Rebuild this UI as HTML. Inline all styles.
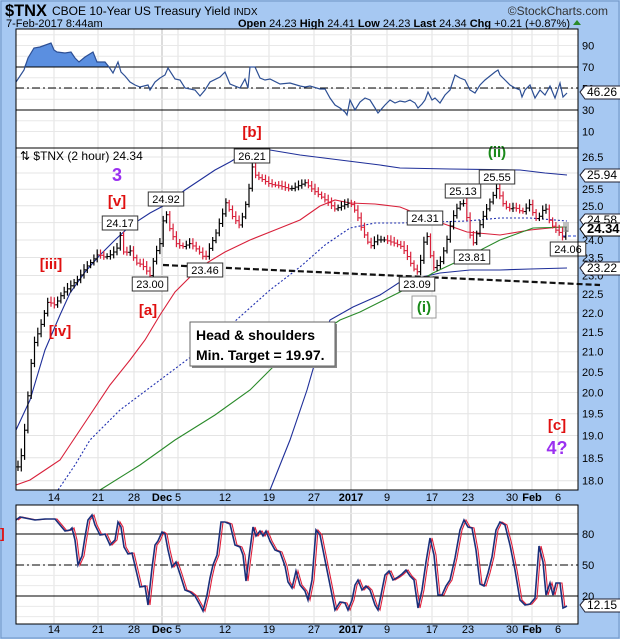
<!DOCTYPE html>
<html><head><meta charset="utf-8"><style>
html,body{margin:0;padding:0;background:#a6c8f2;}
svg{display:block;font-family:"Liberation Sans",sans-serif;}
</style></head><body>
<svg id="s" width="620" height="639" xmlns="http://www.w3.org/2000/svg">
<rect x="0" y="0" width="620" height="639" fill="#a6c8f2"/>
<rect x="1" y="1" width="618" height="637" fill="none" stroke="#6f93c4"/>
<text x="5" y="16" font-size="17" font-weight="bold" textLength="42" lengthAdjust="spacingAndGlyphs">$TNX</text>
<text x="52" y="15" font-size="12">CBOE 10-Year US Treasury Yield <tspan font-size="10">INDX</tspan></text>
<text x="608" y="15" font-size="12" fill="#333" text-anchor="end">©StockCharts.com</text>
<text x="6" y="27" font-size="11">7-Feb-2017 8:44am</text>
<text x="570" y="27" font-size="11" text-anchor="end"><tspan font-weight="bold">Open</tspan> 24.23 <tspan font-weight="bold">High</tspan> 24.41 <tspan font-weight="bold">Low</tspan> 24.23 <tspan font-weight="bold">Last</tspan> 24.34 <tspan font-weight="bold">Chg</tspan> +0.21 (+0.87%)</text>
<polygon points="573,25 577,20 581,25" fill="#2a8a2a"/>
</svg>
<script>
const S=document.getElementById('s');const NS='http://www.w3.org/2000/svg';
function el(t,a,txt){const e=document.createElementNS(NS,t);for(const k in a)e.setAttribute(k,a[k]);if(txt!==undefined)e.textContent=txt;S.appendChild(e);return e;}
const L=16,R=578;
[[29,148],[148,490],[505,624]].forEach(p=>el('rect',{x:L,y:p[0],width:R-L,height:p[1]-p[0],fill:'#fff'}));
const vx=[54,98,134,162,178,225,269,314,351,387,432,468,512,532,558];
function vgrid(y1,y2){vx.forEach(x=>el('line',{x1:x,x2:x,y1:y1,y2:y2,stroke:(x==162||x==351)?'#bbb':'#e2e2e2'}));}
vgrid(29,148);vgrid(148,490);vgrid(505,624);
// top RSI
function ry(v){return 110-(v-30)*1.075;}
for(let v=10;v<=100;v+=10)el('line',{x1:L,x2:R,y1:ry(v),y2:ry(v),stroke:'#e8e8e8'});
[90,70,50,30,10].forEach(v=>el('text',{x:582,y:ry(v)+4,'font-size':11},v));
const rsi=[[16,82],[20,76],[24,70],[28,58],[34,48],[40,47],[51,43],[54,50],[57,52],[65,53],[71,52],[75,58],[79,62],[85,57],[93,52],[97,62],[105,62],[109,67],[113,73],[118,62],[121,72],[125,76],[130,82],[135,85],[140,87],[148,85],[150,90],[155,82],[160,78],[165,75],[168,68],[175,79],[180,80],[185,88],[195,90],[200,96],[205,90],[210,82],[220,77],[225,72],[230,84],[240,88],[245,79],[248,88],[250,67],[255,67],[260,78],[265,80],[270,79],[280,84],[290,83],[300,86],[305,87],[310,86],[320,89],[325,89],[330,98],[335,105],[340,108],[345,112],[347,115],[350,100],[355,110],[360,102],[365,98],[370,100],[375,108],[378,113],[385,105],[390,100],[395,103],[400,101],[405,102],[410,100],[415,103],[418,108],[422,104],[425,100],[428,92],[432,100],[435,98],[440,103],[445,95],[450,90],[455,75],[460,78],[465,80],[470,90],[475,93],[480,85],[485,80],[490,76],[495,72],[498,70],[500,75],[505,80],[510,85],[515,88],[520,90],[522,97],[525,90],[530,85],[535,98],[540,90],[545,95],[550,86],[555,98],[560,83],[563,97],[567,93]];
let fp='21,67 ';rsi.filter(p=>p[0]>=21&&p[0]<=109).forEach(p=>fp+=p[0]+','+Math.min(p[1],67)+' ');fp+='109,67';
el('polygon',{points:fp,fill:'#5b8fe0'});
el('line',{x1:L,x2:R,y1:67,y2:67,stroke:'#000'});el('line',{x1:L,x2:R,y1:110,y2:110,stroke:'#000'});
el('line',{x1:L,x2:R,y1:88,y2:88,stroke:'#000','stroke-dasharray':'8,3,2,3'});
el('polyline',{points:rsi.map(p=>p.join(',')).join(' '),fill:'none',stroke:'#2d4f94','stroke-width':1.2});
// main
function py(p){return 157+837*Math.log(26.5/p);}
for(let v=18;v<=26.5;v+=0.5){el('line',{x1:L,x2:R,y1:py(v),y2:py(v),stroke:'#e4e4e4'});}
[26.5,25.5,25.0,24.0,23.5,23.0,22.5,22.0,21.5,21.0,20.5,20.0,19.5,19.0,18.5,18.0].forEach(v=>el('text',{x:582,y:py(v)+4,'font-size':11},v.toFixed(1)));
el('text',{x:582,y:py(26.0)+4,'font-size':11},'26.0');
function pl(pts,c,extra){const a={points:pts.map(p=>p.join(',')).join(' '),fill:'none',stroke:c,'stroke-width':1.1};Object.assign(a,extra||{});el('polyline',a);}
pl([[16,430],[30,400],[45,350],[60,315],[70,293],[85,272],[100,255],[115,240],[130,226],[150,213],[165,205],[185,190],[200,180],[215,170],[230,162],[245,153],[252,149],[270,150],[300,155],[340,160],[380,165],[400,168],[450,169],[520,170],[545,173],[567,175]],'#1f2f99');
pl([[270,490],[290,440],[307,390],[320,345],[330,320],[353,307],[380,295],[400,282],[440,273],[470,270],[500,270],[530,269],[567,268]],'#1f2f99');
pl([[16,485],[30,480],[45,470],[60,460],[70,445],[90,415],[110,385],[130,360],[145,340],[160,315],[175,292],[200,267],[225,252],[250,240],[275,230],[300,220],[320,206],[335,200],[350,203],[375,204],[400,207],[433,220],[467,232],[500,235],[530,230],[560,227],[567,227]],'#d8203a');
pl([[58,490],[75,465],[90,440],[120,410],[160,380],[200,350],[233,323],[270,290],[300,267],[325,245],[350,228],[375,223],[400,223],[467,221],[500,218],[530,218],[567,221]],'#2030b0',{'stroke-dasharray':'2,2'});
pl([[100,490],[140,465],[175,440],[215,415],[250,390],[277,363],[310,340],[340,320],[360,312],[400,292],[433,273],[467,257],[500,240],[533,228],[567,227]],'#2a8a2a');
el('line',{x1:163,y1:265,x2:600,y2:285,stroke:'#111','stroke-width':2.2,'stroke-dasharray':'6,3'});
el('line',{x1:563,y1:236,x2:578,y2:236,stroke:'#2040d0','stroke-dasharray':'3,2'});
const wp=[[18,18.3],[22,18.6],[26,19.4],[30,20.5],[34,21.2],[40,21.6],[48,22.3],[55,22.2],[62,22.5],[70,22.7],[78,22.9],[85,23.2],[92,23.4],[98,23.6],[105,23.5],[112,23.6],[118,23.8],[120,24.17],[124,23.6],[130,23.7],[136,23.35],[142,23.3],[150,23.0],[155,23.6],[160,23.9],[165,24.92],[170,24.3],[176,23.9],[182,23.8],[190,23.9],[198,23.7],[205,23.46],[210,23.8],[216,24.2],[222,24.7],[226,25.1],[232,24.7],[240,24.4],[248,25.3],[252,26.21],[256,25.9],[262,25.8],[270,25.65],[280,25.6],[290,25.5],[298,25.6],[305,25.7],[312,25.5],[320,25.3],[328,25.1],[335,24.9],[342,25.0],[350,25.1],[356,24.8],[362,24.3],[370,23.8],[376,24.0],[385,24.0],[395,23.9],[402,23.8],[408,23.5],[413,23.2],[418,23.09],[422,23.6],[426,24.31],[430,23.6],[434,23.2],[440,23.35],[446,23.9],[452,24.6],[458,25.0],[463,25.13],[468,24.5],[472,23.81],[477,24.2],[482,24.6],[488,25.0],[493,25.3],[497,25.55],[502,25.1],[508,24.9],[515,24.95],[522,24.8],[530,25.05],[535,24.6],[540,24.7],[545,25.0],[550,24.5],[555,24.3],[560,24.2],[563,24.06],[567,24.34]];
function interp(x){for(let i=1;i<wp.length;i++){if(x<=wp[i][0]){const a=wp[i-1],b=wp[i];return a[1]+(b[1]-a[1])*(x-a[0])/(b[0]-a[0]);}}return wp[wp.length-1][1];}
let prev=interp(18);
for(let x=18;x<=567;x+=3.3){const c=interp(x);const n=Math.sin(x*1.7)*0.08;const hi=Math.max(c,prev)+0.08+Math.abs(n);const lo=Math.min(c,prev)-0.06-Math.abs(n)*0.5;const col=c>=prev?'#000':'#d8203a';
el('line',{x1:x,x2:x,y1:py(hi),y2:py(lo),stroke:col,'stroke-width':1.2});el('line',{x1:x-2,x2:x,y1:py(prev),y2:py(prev),stroke:col});el('line',{x1:x,x2:x+2,y1:py(c),y2:py(c),stroke:col});prev=c;}
el('rect',{x:563,y:222,width:6,height:10,fill:'#9a9a9a',opacity:0.6});
function lab(x,y,t){const w=t.length*6.3+4;el('rect',{x:x-w/2,y:y-8,width:w,height:14,fill:'#fff',stroke:'#333'});el('text',{x:x,y:y+3,'font-size':11,'text-anchor':'middle'},t);}
lab(120,224,'24.17');lab(166,200,'24.92');lab(252,157,'26.21');lab(150,285,'23.00');lab(205,271,'23.46');lab(425,219,'24.31');lab(417,285,'23.09');lab(463,192,'25.13');lab(472,258,'23.81');lab(497,178,'25.55');lab(568,250,'24.06');
function t(x,y,s,c,sz){el('text',{x:x,y:y,'font-size':sz,'font-weight':'bold',fill:c,'text-anchor':'middle'},s);}
t(117,181,'3','#9b30f0',18);t(117,206,'[v]','#e01010',15);t(51,269,'[iii]','#e01010',15);t(60,336,'[iv]','#e01010',15);t(148,315,'[a]','#e01010',15);t(252,137,'[b]','#e01010',15);t(497,157,'(ii)','#1a8a1a',15);t(557,430,'[c]','#e01010',15);t(557,454,'4?','#9b30f0',18);
el('rect',{x:412,y:296,width:24,height:22,fill:'#fff',stroke:'#999'});t(424,312,'(i)','#1a8a1a',15);
el('rect',{x:192,y:324,width:145,height:44,fill:'#888'});el('rect',{x:190,y:322,width:145,height:44,fill:'#fff',stroke:'#666'});
el('text',{x:196,y:340,'font-size':14,'font-weight':'bold'},'Head & shoulders');el('text',{x:196,y:360,'font-size':14,'font-weight':'bold'},'Min. Target = 19.97.');
el('text',{x:20,y:160,'font-size':12},'⇅ $TNX (2 hour) 24.34');
function rb(y,t,bold){const w=t.length*7+6;el('polygon',{points:`580,${y} 585,${y-6} ${585+w},${y-6} ${585+w},${y+7} 585,${y+7}`,fill:'#fff',stroke:bold?'#000':'#223'});el('text',{x:587,y:y+4,'font-size':bold?13:12,'font-weight':bold?'bold':'normal'},t);}
rb(175,'25.94');rb(220,'24.58');rb(268,'23.22');rb(229,'24.34',1);rb(92,'46.26');rb(605,'12.15');
const xl=[[54,'14'],[98,'21'],[134,'28'],[162,'Dec',1],[178,'5'],[225,'12'],[269,'19'],[314,'27'],[351,'2017',1],[387,'9'],[432,'17'],[468,'23'],[512,'30'],[532,'Feb',1],[558,'6']];
[501,633].forEach(y=>xl.forEach(l=>el('text',{x:l[0],y:y,'font-size':11,'text-anchor':'middle','font-weight':l[2]?'bold':'normal'},l[1])));
function sy(v){return 596-(v-20)*1.033;}
for(let v=0;v<=100;v+=10)el('line',{x1:L,x2:R,y1:sy(v),y2:sy(v),stroke:'#eaeaea'});
el('line',{x1:L,x2:R,y1:534,y2:534,stroke:'#000'});el('line',{x1:L,x2:R,y1:596,y2:596,stroke:'#000'});el('line',{x1:L,x2:R,y1:565,y2:565,stroke:'#000','stroke-dasharray':'8,3,2,3'});
el('text',{x:582,y:538,'font-size':11},'80');el('text',{x:582,y:569,'font-size':11},'50');el('text',{x:582,y:600,'font-size':11},'20');
const st=[[16,520],[20,517],[25,518],[35,520],[45,519],[55,519],[60,525],[65,531],[70,530],[72,528],[75,540],[78,565],[82,556],[85,537],[88,520],[92,515],[95,525],[100,535],[105,534],[110,545],[115,540],[118,522],[121,527],[124,547],[128,554],[132,553],[136,570],[140,587],[145,586],[148,605],[152,568],[155,545],[158,541],[162,532],[165,534],[168,550],[172,567],[176,562],[180,574],[185,590],[190,592],[195,596],[200,605],[203,611],[207,595],[210,578],[213,565],[217,555],[221,522],[225,522],[230,524],[235,545],[240,547],[243,555],[246,581],[249,557],[253,527],[256,536],[260,531],[263,536],[266,531],[270,541],[275,550],[280,552],[285,566],[288,582],[292,588],[296,571],[300,585],[305,591],[308,600],[312,580],[316,530],[320,535],[325,560],[330,585],[335,610],[340,602],[345,603],[348,610],[352,600],[355,585],[358,580],[362,590],[366,586],[370,590],[375,605],[378,610],[382,590],[385,575],[389,571],[393,580],[398,577],[402,574],[406,570],[410,576],[414,580],[418,608],[422,590],[426,562],[430,538],[434,555],[438,595],[442,595],[446,586],[450,580],[455,558],[460,530],[464,520],[468,527],[472,528],[476,550],[480,584],[484,586],[488,573],[492,557],[496,530],[500,522],[505,525],[510,545],[515,570],[520,600],[525,605],[530,604],[535,598],[539,546],[543,562],[546,595],[550,583],[553,595],[556,583],[560,583],[563,608],[567,606]];
pl(st.map(p=>[p[0]+2,p[1]]).filter(p=>p[0]<=568),'#e0203a');
pl(st,'#1a2f7a',{'stroke-width':1.6});
el('text',{x:0,y:538,'font-size':14,fill:'#e01010','font-weight':'bold'},']');
[[29,148],[148,490],[505,624]].forEach(p=>el('rect',{x:L,y:p[0],width:R-L,height:p[1]-p[0],fill:'none',stroke:'#000'}));
</script>
</body></html>
